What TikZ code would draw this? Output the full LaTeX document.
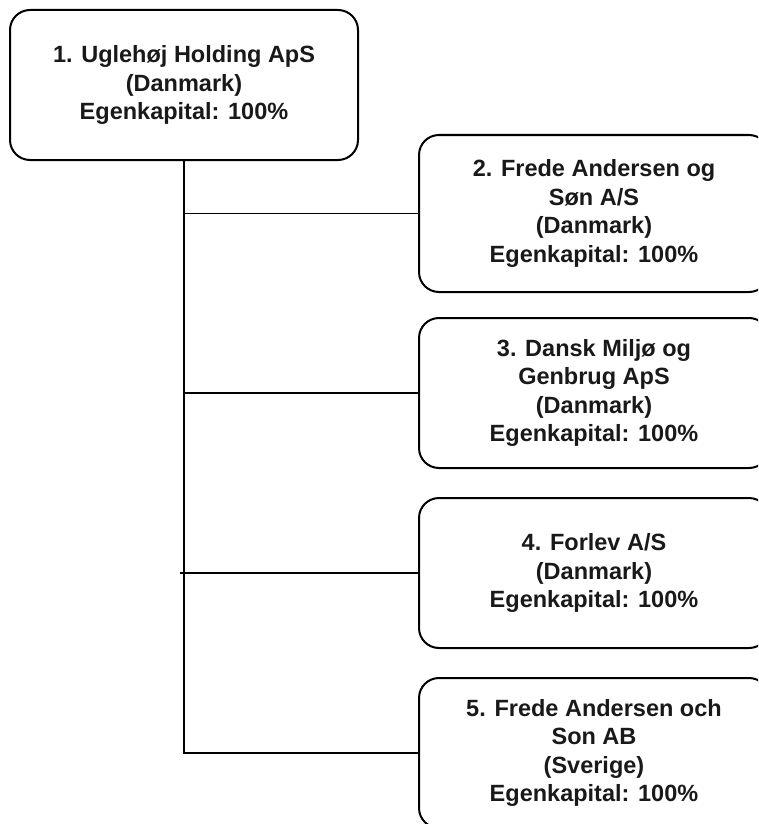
\documentclass[tikz,border=0pt]{standalone}
\usepackage{fontspec}
\setmainfont{Liberation Sans}
\tikzset{
  firma/.style={draw,line width=2pt,rounded corners=20pt,align=center,
    font=\bfseries\fontsize{23.5}{28.5}\selectfont,text=black!90,inner sep=0pt},
  forbind/.style={line width=1.8pt}
}
\begin{document}
\begin{tikzpicture}[x=1pt,y=-1pt]
    \useasboundingbox (0,0) rectangle (758,824);
    \clip (0,0) rectangle (758,824);

    % Moderselskab
    \node[firma,minimum width=348pt,minimum height=150pt] (m1) at (184,85)
      {1. Uglehøj Holding ApS\\(Danmark)\\Egenkapital: 100\%};

    % Datterselskaber
    \node[firma,minimum width=350pt,minimum height=157pt] (d2) at (594,213.5)
      {2. Frede Andersen og\\Søn A/S\\(Danmark)\\Egenkapital: 100\%};
    \node[firma,minimum width=350pt,minimum height=150pt] (d3) at (594,393)
      {3. Dansk Miljø og\\Genbrug ApS\\(Danmark)\\Egenkapital: 100\%};
    \node[firma,minimum width=350pt,minimum height=150pt] (d4) at (594,573)
      {4. Forlev A/S\\(Danmark)\\Egenkapital: 100\%};
    \node[firma,minimum width=350pt,minimum height=150pt] (d5) at (594,753)
      {5. Frede Andersen och\\Son AB\\(Sverige)\\Egenkapital: 100\%};

    % Forbindelser
    \coordinate (bund) at (m1.south |- d5.west);
    \draw[forbind] (m1.south) -- (bund) -- (d5.west);
    \draw[forbind] (m1.south |- d2.west) -- (d2.west);
    \draw[forbind] (m1.south |- d3.west) -- (d3.west);
    \draw[forbind] ([xshift=-4pt]m1.south |- d4.west) -- (d4.west);
\end{tikzpicture}
\end{document}
